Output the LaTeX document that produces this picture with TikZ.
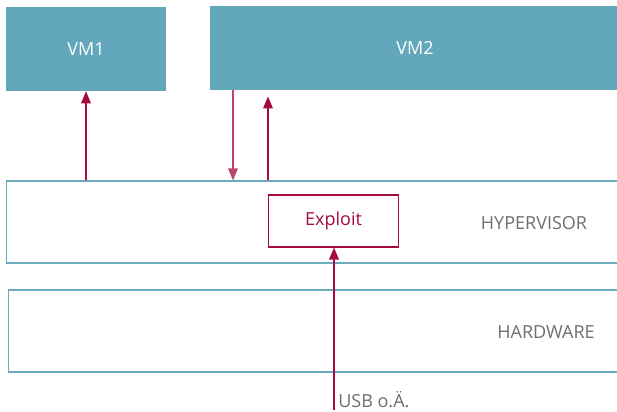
\documentclass[tikz,border=0pt]{standalone}
\usepackage{fontspec}
\setmainfont{Open Sans}
\usetikzlibrary{positioning,arrows.meta}
\definecolor{vmteal}{HTML}{62A7BC}
\definecolor{lineteal}{HTML}{6AAABD}
\definecolor{crim}{HTML}{A6093D}
\definecolor{labgray}{HTML}{6E6E6E}

\begin{document}
\begin{tikzpicture}[x=0.025cm, y=-0.025cm,
    font=\fontsize{12.8}{15}\selectfont,
    vm/.style={fill=vmteal, text=white, minimum height=2.1cm},
    layer/.style={draw=lineteal, line width=0.8pt, minimum height=2.05cm},
    layertext/.style={text=labgray},
    arr/.style={-{Triangle[length=3mm, width=2.4mm]}, crim, line width=1.1pt},
    ]
    \useasboundingbox (0,0) rectangle (617,412);

    \node (vm1) [vm, minimum width=4cm] at (86,49) {VM1};
    \node (vm2) [vm, minimum width=10.25cm] at (415,48) {VM2};

    \node (hyp) [layer, minimum width=15.575cm] at (318.5,222) {};
    \node (hw)  [layer, minimum width=15.525cm] at (319.5,331) {};
    \node (hyplabel) [layertext] at (534,223) {HYPERVISOR};
    \node (hwlabel)  [layertext] at (546,332) {HARDWARE};

    \node (exploit) [draw=crim, line width=0.8pt, text=crim,
        minimum width=3.25cm, minimum height=1.3cm] at (333.5,221) {Exploit};

    \coordinate (usb) at (334,410);
    \node (usblabel) [anchor=base west, text=labgray, inner sep=0pt] at (338,407) {USB o.Ä.};

    \coordinate (down) at (233,0);
    \coordinate (up) at (268,0);
    \draw [arr] (vm1 |- hyp.north) -- (vm1.south);
    \draw [arr, crim!75] (down |- vm2.south) -- (down |- hyp.north);
    \draw [arr, shorten >=4\pgflinewidth] (up |- hyp.north) -- (up |- vm2.south);
    \draw [arr] (usb) -- (usb |- exploit.south);

\end{tikzpicture}
\end{document}
